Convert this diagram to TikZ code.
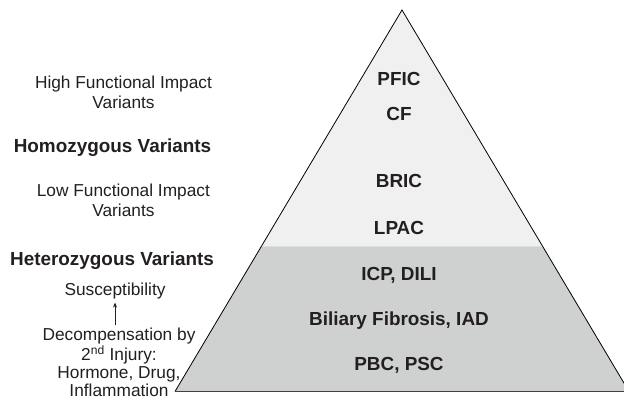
\documentclass[tikz,border=0pt]{standalone}
\usepackage{fontspec}
\setmainfont{Liberation Sans}
\usetikzlibrary{arrows.meta,calc}
\definecolor{inkgray}{RGB}{35,31,32}
\definecolor{toplayer}{RGB}{240,240,240}
\definecolor{bottomlayer}{RGB}{207,208,208}
\tikzset{
  every node/.style={inner sep=0pt, outer sep=0pt, text=inkgray},
  disease/.style={anchor=base, font=\fontsize{18.9}{21}\selectfont\bfseries},
  sidehead/.style={anchor=base, font=\fontsize{18.9}{21}\selectfont\bfseries},
  sidenote/.style={anchor=base, align=center, font=\fontsize{17.3}{20}\selectfont},
  sidelist/.style={anchor=base, align=center, font=\fontsize{17.3}{17.7}\selectfont},
  edge/.style={draw=black, line width=0.8pt, line join=miter},
}
\begin{document}
\begin{tikzpicture}[x=1pt,y=-1pt]
\useasboundingbox (0,0) rectangle (624,399);
\clip (0,0) rectangle (624,399);
% pyramid corners and layer split
\coordinate (apex) at (402,10);
\coordinate (bl) at (175,391.5);
\coordinate (br) at (629,391.5);
\coordinate (ml) at ($(apex)!0.6194!(bl)$);
\coordinate (mr) at ($(apex)!0.6194!(br)$);
% layers
\fill[toplayer] (apex) -- (ml) -- (mr) -- cycle;
\fill[bottomlayer] (ml) -- (bl) -- (br) -- (mr) -- cycle;
\draw[edge] (br) -- (apex) -- (bl);
\draw[draw=inkgray!85, line width=1.6pt] (bl) -- (br);
% labels inside the pyramid
\node[disease] (pfic) at (399,85) {PFIC};
\node[disease] (cf) at (399,120) {CF};
\node[disease] (bric) at (399,187) {BRIC};
\node[disease] (lpac) at (399,234) {LPAC};
\node[disease] (icp) at (399,280) {ICP, DILI};
\node[disease] (bf) at (399,325) {Biliary Fibrosis, IAD};
\node[disease] (pbc) at (399,370) {PBC, PSC};
% side labels (multi-line nodes are placed by their last baseline)
\node[sidenote] (high) at (123.5,108) {High Functional Impact\\Variants};
\node[sidehead] (homo) at (112.5,152) {Homozygous Variants};
\node[sidenote] (low) at (123.4,216) {Low Functional Impact\\Variants};
\node[sidehead] (hetero) at (112,265) {Heterozygous Variants};
\node[sidenote] (susc) at (115,295) {Susceptibility};
\node[sidelist] (dec) at (119,396) {Decompensation by\\2\textsuperscript{nd} Injury:\\Hormone, Drug,\\Inflammation};
\draw[-{Stealth[length=5pt,width=4pt]}, line width=0.7pt, draw=inkgray, shorten <=3pt, shorten >=4pt]
  (dec.north -| susc.south) -- (susc.south);
\end{tikzpicture}
\end{document}
